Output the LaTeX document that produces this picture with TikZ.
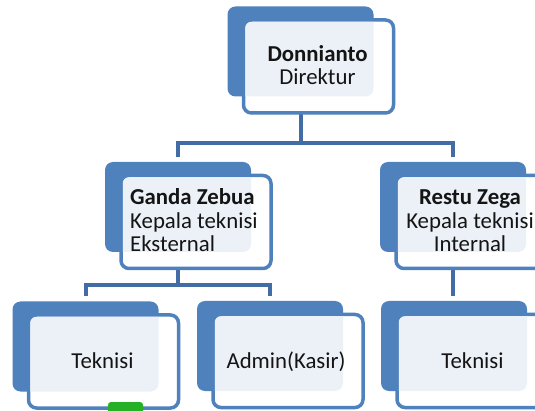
\documentclass[tikz,border=0pt]{standalone}
\usepackage{fontspec}
\setmainfont{Carlito}
\usetikzlibrary{calc}
\pgfdeclarelayer{background}
\pgfsetlayers{background,main}
\definecolor{boxblue}{RGB}{79,129,189}
\definecolor{connblue}{RGB}{66,108,164}
\definecolor{lightfill}{RGB}{236,241,248}
\definecolor{tabgreen}{RGB}{38,176,38}
\definecolor{txt}{RGB}{20,20,20}
\tikzset{
  backbox/.style={fill=boxblue, rounded corners=8pt, minimum width=146pt, minimum height=90pt, inner sep=0pt, outer sep=0pt},
  frontbox/.style={draw=boxblue, line width=3.5pt, fill=white, rounded corners=8pt, minimum width=150pt, minimum height=93pt, inner sep=0pt, outer sep=0pt},
  conn/.style={draw=connblue, line width=4pt},
  txtline/.style={font=\fontsize{22.8}{24}\selectfont, text=txt, inner sep=0pt, anchor=base},
  nameline/.style={txtline, font=\fontsize{22.8}{24}\selectfont\bfseries}
}
\newcommand{\orgunit}[2]{%
  \node[backbox] (#1) at (#2) {};
  \node[frontbox] (#1f) at ($(#1)+(18,15)$) {};
  \begin{scope}
    \clip[rounded corners=6pt] ($(#1f.north west)+(1.8,1.8)$) rectangle ($(#1f.south east)+(-1.8,-1.8)$);
    \fill[lightfill, rounded corners=8pt] (#1.north west) rectangle (#1.south east);
  \end{scope}
}
\begin{document}
\begin{tikzpicture}[x=1pt,y=-1pt]
\useasboundingbox (0,0) rectangle (535,411);
\clip (0,0) rectangle (535,411);
\orgunit{n0}{300.5,51.5}
\orgunit{n1}{178,207}
\orgunit{n2}{453,207}
\orgunit{n3}{85.5,346.5}
\orgunit{n4}{270,346}
\orgunit{n5}{454,346}
\coordinate (j0) at ($(n0.south)+(0,47)$);
\coordinate (j1) at ($(n1.south)+(0,33)$);
\begin{pgfonlayer}{background}
  \fill[white] (0,0) rectangle (535,411);
  \draw[conn] (n0.south) -- (j0);
  \draw[conn, shorten <=5pt, shorten >=5pt] (n1.north) |- (j0) -| (n2.north);
  \draw[conn] (n1.south) -- (j1);
  \draw[conn, shorten <=5pt, shorten >=5pt] (n3.north) |- (j1) -| (n4.north);
  \draw[conn, shorten >=5pt] (n2.south) -- (n2.south |- n5.north);
\end{pgfonlayer}
\fill[tabgreen, rounded corners=3pt] (108,402) rectangle (143,418);
% texts
\node[nameline] (t0a) at ($(n0f)+(-1,-4.5)$) {Donnianto};
\node[txtline]  (t0b) at ($(n0f)+(-1,18.5)$) {Direktur};
\node[nameline, anchor=base west] (t1a) at ($(n1f)+(-66,-17)$) {Ganda Zebua};
\node[txtline, anchor=base west]  (t1b) at ($(n1f)+(-66,7)$) {Kepala teknisi};
\node[txtline, anchor=base west]  (t1c) at ($(n1f)+(-66,30)$) {Eksternal};
\node[nameline] (t2a) at ($(n2f)+(-1,-17)$) {Restu Zega};
\node[txtline]  (t2b) at ($(n2f)+(-1,7)$) {Kepala teknisi};
\node[txtline]  (t2c) at ($(n2f)+(-1,30)$) {Internal};
\node[txtline] (t3) at ($(n3f)+(-1,6.5)$) {Teknisi};
\node[txtline] (t4) at ($(n4f)+(-2,7)$) {Admin(Kasir)};
\node[txtline] (t5) at ($(n5f)+(0.5,7)$) {Teknisi};
\end{tikzpicture}
\end{document}
